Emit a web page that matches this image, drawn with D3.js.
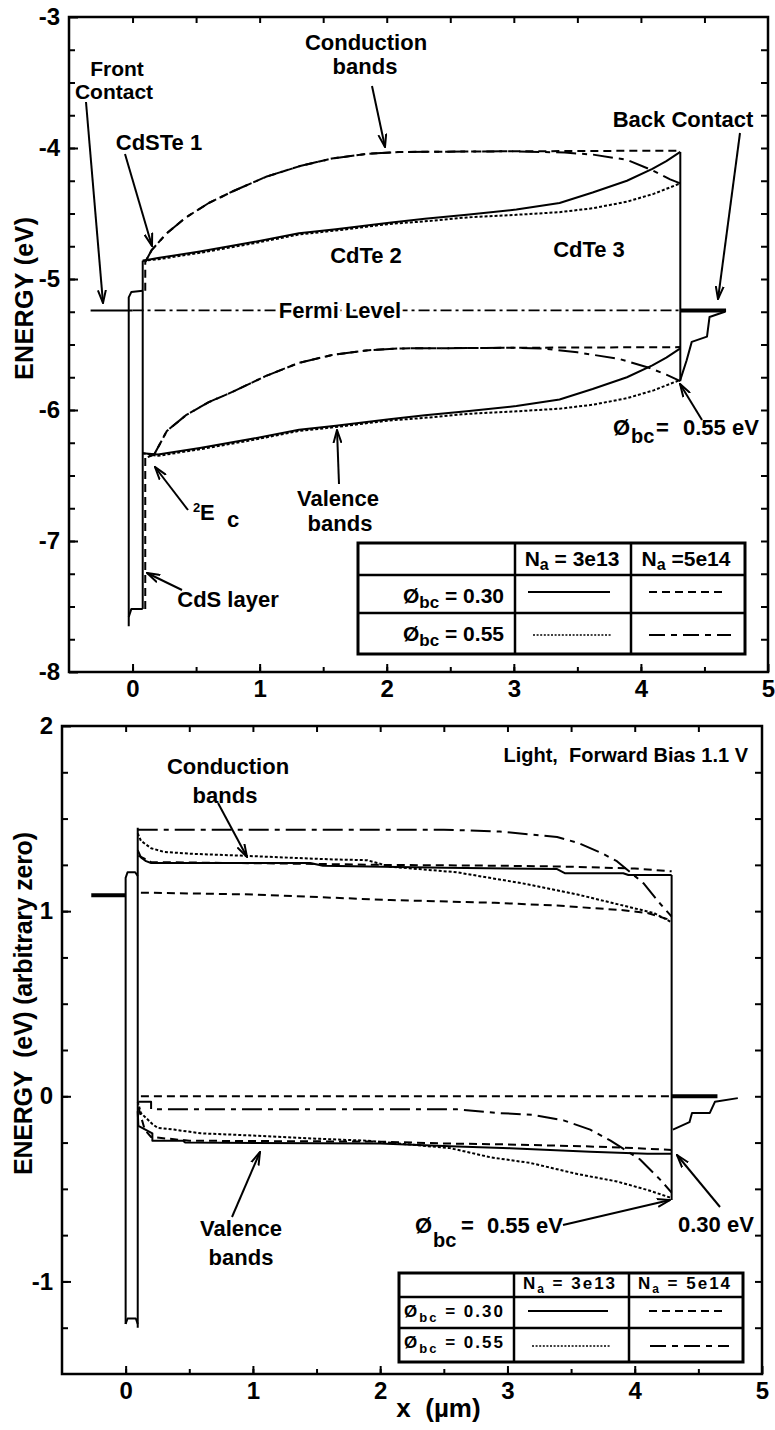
<!DOCTYPE html>
<html><head><meta charset="utf-8">
<script src="https://cdn.jsdelivr.net/npm/d3@7"></script>
<style>
body{margin:0;background:#fff}
svg{display:block;background:#fff}
text{font-family:"Liberation Sans",Arial,Helvetica,sans-serif;font-weight:bold;fill:#000}
.pre{white-space:pre}
</style></head><body>
<svg id="chart" width="775" height="1430"></svg>
<script>
// ---------------- DATA : top panel (equilibrium) ----------------
const xTickLabels = [0, 1, 2, 3, 4, 5];
const yTickLabelsTop = [-8, -7, -6, -5, -4, -3];
const yTickLabelsBot = [-1, 0, 1, 2];

const cbSolidTop = [[0.08,-4.86],[0.2,-4.84],[0.53,-4.79],[0.94,-4.72],[1.31,-4.65],[1.6,-4.62],[2.02,-4.57],[2.3,-4.54],[2.63,-4.51],[3.02,-4.47],[3.36,-4.42],[3.62,-4.34],[3.89,-4.25],[4.09,-4.16],[4.2,-4.10],[4.31,-4.03]];
const cbDottedTop = [[0.08,-4.86],[0.2,-4.85],[0.53,-4.80],[0.94,-4.73],[1.31,-4.66],[1.6,-4.63],[2.02,-4.58],[2.3,-4.56],[2.63,-4.53],[3.02,-4.51],[3.36,-4.49],[3.62,-4.46],[3.89,-4.41],[4.1,-4.35],[4.31,-4.27]];
const cbDashedTop = [[0.1,-5.09],[0.1,-4.87],[0.15,-4.78],[0.27,-4.65],[0.42,-4.53],[0.6,-4.42],[0.79,-4.33],[1.05,-4.22],[1.31,-4.14],[1.57,-4.08],[1.84,-4.045],[2.1,-4.03],[3.0,-4.025],[4.31,-4.02]];
const cbDashDotTop = [[0.1,-4.87],[0.15,-4.78],[0.27,-4.65],[0.42,-4.53],[0.6,-4.42],[0.79,-4.33],[1.05,-4.22],[1.31,-4.14],[1.57,-4.08],[1.84,-4.045],[2.1,-4.03],[3.0,-4.025],[3.4,-4.035],[3.62,-4.05],[3.89,-4.09],[4.09,-4.17],[4.23,-4.24],[4.31,-4.27]];

const vbSolidTop = [[0.08,-6.33],[0.2,-6.34],[0.53,-6.29],[0.94,-6.22],[1.31,-6.15],[1.6,-6.12],[2.02,-6.07],[2.3,-6.04],[2.63,-6.01],[3.02,-5.97],[3.36,-5.92],[3.62,-5.84],[3.89,-5.75],[4.09,-5.66],[4.2,-5.60],[4.31,-5.53]];
const vbDottedTop = [[0.08,-6.33],[0.2,-6.35],[0.53,-6.30],[0.94,-6.23],[1.31,-6.16],[1.6,-6.13],[2.02,-6.08],[2.3,-6.06],[2.63,-6.03],[3.02,-6.01],[3.36,-5.99],[3.62,-5.96],[3.89,-5.91],[4.1,-5.85],[4.31,-5.77]];
const vbDashedTop = [[0.1,-7.52],[0.1,-6.36],[0.17,-6.34],[0.27,-6.16],[0.42,-6.04],[0.6,-5.94],[0.79,-5.86],[1.05,-5.74],[1.31,-5.64],[1.57,-5.58],[1.84,-5.545],[2.1,-5.53],[3.0,-5.525],[4.31,-5.52]];
const vbDashDotTop = [[0.12,-6.36],[0.17,-6.34],[0.27,-6.16],[0.42,-6.04],[0.6,-5.94],[0.79,-5.86],[1.05,-5.74],[1.31,-5.64],[1.57,-5.58],[1.84,-5.545],[2.1,-5.53],[3.0,-5.525],[3.23,-5.53],[3.5,-5.56],[3.83,-5.61],[4.07,-5.68],[4.2,-5.73],[4.31,-5.78]];

const cdsTopLeft = [[-0.03,-7.65],[-0.03,-5.14],[-0.01,-5.10],[0.08,-5.09]];
const cdsTopRight = [[0.08,-4.86],[0.08,-7.52]];
const cdsTopBottom = [[-0.03,-7.58],[-0.01,-7.52],[0.08,-7.52]];
const frontContactTop = [[-0.33,-5.24],[0.0,-5.24]];
const fermiTop = [[0.0,-5.24],[4.31,-5.24]];
const backContactTop = [[4.31,-5.24],[4.67,-5.24]];
const backEdgeTop = [[4.31,-4.03],[4.31,-5.78]];
const backStairTop = [[4.31,-5.77],[4.36,-5.62],[4.40,-5.48],[4.52,-5.44],[4.54,-5.29],[4.66,-5.25]];

// ---------------- DATA : bottom panel (light, forward bias) ----------------
const frontContactBot = [[-0.27,1.086],[0.0,1.086]];
const cdsBotLeft = [[0.0,-1.23],[0.0,1.18],[0.015,1.21],[0.075,1.21],[0.095,1.19]];
const cdsBotRight = [[0.095,1.45],[0.095,-1.25]];
const cdsBotBottom = [[0.0,-1.23],[0.015,-1.20],[0.08,-1.20],[0.095,-1.23]];

const cbSolidBot = [[0.095,1.33],[0.12,1.29],[0.16,1.27],[0.2,1.26],[1.45,1.26],[1.55,1.245],[2.5,1.235],[3.39,1.227],[3.45,1.205],[3.91,1.205],[3.95,1.195],[4.29,1.195]];
const cbDashedBot = [[0.1,1.30],[0.2,1.265],[1.5,1.255],[2.0,1.25],[3.0,1.245],[3.5,1.24],[4.0,1.23],[4.29,1.215]];
const cbDottedBot = [[0.095,1.42],[0.12,1.38],[0.2,1.34],[0.3,1.32],[0.51,1.31],[0.9,1.30],[1.24,1.29],[1.6,1.28],[1.9,1.275],[2.08,1.24],[2.6,1.21],[3.12,1.15],[3.55,1.09],[3.91,1.03],[4.15,0.99],[4.29,0.94]];
const cbDashDotBot = [[0.095,1.44],[2.5,1.44],[2.94,1.43],[3.39,1.40],[3.55,1.37],[3.75,1.31],[3.86,1.27],[4.07,1.15],[4.2,1.04],[4.29,0.97]];
const lowDashedBot = [[0.12,1.10],[1.0,1.09],[2.08,1.06],[2.9,1.045],[3.39,1.03],[3.91,1.005],[4.1,0.99],[4.29,0.95]];

const vbSolidBot = [[0.095,-0.08],[0.1,-0.16],[0.21,-0.20],[0.21,-0.24],[0.45,-0.24],[0.47,-0.25],[2.0,-0.255],[2.55,-0.27],[3.02,-0.28],[3.65,-0.30],[4.1,-0.31],[4.29,-0.31]];
const vbDashedBot = [[0.1,-0.06],[0.15,-0.18],[0.2,-0.22],[0.5,-0.24],[2.0,-0.245],[2.5,-0.255],[3.0,-0.26],[3.6,-0.27],[4.0,-0.28],[4.29,-0.29]];
const zeroDashedBot = [[0.12,0.0],[4.29,0.0]];
const vbDottedBot = [[0.095,-0.03],[0.12,-0.09],[0.21,-0.15],[0.25,-0.17],[0.38,-0.18],[0.59,-0.20],[0.93,-0.21],[1.53,-0.23],[1.9,-0.24],[2.55,-0.28],[2.87,-0.33],[3.18,-0.36],[3.55,-0.42],[3.86,-0.46],[4.12,-0.51],[4.29,-0.55]];
const vbDashDotBot = [[0.1,-0.03],[0.2,-0.03],[0.2,-0.07],[2.6,-0.07],[2.92,-0.09],[3.2,-0.10],[3.44,-0.13],[3.65,-0.18],[3.81,-0.24],[4.04,-0.34],[4.2,-0.45],[4.29,-0.52]];

const backEdgeBot = [[4.29,1.195],[4.29,-0.56]];
const backContactBot = [[4.29,0.0],[4.65,0.0]];
const backStairBot = [[4.30,-0.18],[4.43,-0.14],[4.45,-0.09],[4.59,-0.09],[4.63,-0.03],[4.81,-0.01]];

// ---------------- STYLES ----------------
const lineStyles = {
  solid:   {dash: null, w: 2},
  dashed:  {dash: "8,5", w: 2},
  dotted:  {dash: "3,2", w: 2},
  dashdot: {dash: "20,6,5,6", w: 2},
  fermi:   {dash: "11,4,3,4", w: 1.8},
  thick:   {dash: null, w: 4}
};

const svg = d3.select("#chart");
const defs = svg.append("defs");
defs.append("marker").attr("id","arrow").attr("viewBox","0 0 14 10")
  .attr("refX",13).attr("refY",5).attr("markerWidth",14).attr("markerHeight",10)
  .attr("markerUnits","userSpaceOnUse").attr("orient","auto")
  .append("path").attr("d","M0,1 L13,5 L0,9").attr("fill","none")
  .attr("stroke","#000").attr("stroke-width",2);

function drawPanel(cfg) {
  const {x, y} = cfg;
  const g = svg.append("g");
  const [x0, x1] = x.range();
  const [y0, y1] = y.range();
  const [dy0, dy1] = y.domain();

  const style = sel => { sel.select(".domain").remove(); sel.selectAll("line").attr("stroke-width", 2); sel.selectAll("text").style("font-size","24px"); };
  const xMinor = d3.range(0, 11).map(i => -0.5 + i * 0.5).filter(v => v > -0.5 && v < 5);
  const yMinor = d3.range(1, Math.round((dy1 - dy0) / 0.25)).map(i => dy0 + i * 0.25);
  g.append("g").attr("transform", `translate(0,${y0})`)
    .call(d3.axisBottom(x).tickValues(xMinor).tickSize(-5).tickFormat("")).call(style);
  g.append("g").attr("transform", `translate(0,${y0})`)
    .call(d3.axisBottom(x).tickValues(xTickLabels).tickSize(-8).tickPadding(8).tickFormat(d => String(d))).call(style);
  g.append("g").attr("transform", `translate(0,${y1})`)
    .call(d3.axisTop(x).tickValues(xMinor).tickSize(-6).tickFormat("")).call(style);
  g.append("g").attr("transform", `translate(${x0},0)`)
    .call(d3.axisLeft(y).tickValues(yMinor).tickSize(-6).tickFormat("")).call(style);
  g.append("g").attr("transform", `translate(${x0},0)`)
    .call(d3.axisLeft(y).tickValues(cfg.yLabels).tickSize(-9).tickPadding(9).tickFormat(d => String(d))).call(style);
  g.append("g").attr("transform", `translate(${x1},0)`)
    .call(d3.axisRight(y).tickValues(yMinor).tickSize(-7).tickFormat("")).call(style);
  g.append("rect").attr("x", x0).attr("y", y1).attr("width", x1 - x0).attr("height", y0 - y1)
    .attr("fill","none").attr("stroke","#000").attr("stroke-width",2.5);

  const line = d3.line().x(d => x(d[0])).y(d => y(d[1]));
  cfg.lines.forEach(([data, st]) => {
    const s = lineStyles[st];
    g.append("path").datum(data).attr("d", line).attr("fill","none").attr("stroke","#000")
      .attr("stroke-width", s.w).attr("stroke-dasharray", s.dash).attr("stroke-linejoin","round");
  });
  return g;
}

const topX = d3.scaleLinear().domain([-0.5, 5]).range([69, 768]);
const topY = d3.scaleLinear().domain([-8, -3]).range([672, 17]);
const botX = d3.scaleLinear().domain([-0.5, 5]).range([62, 762]);
const botY = d3.scaleLinear().domain([-1.5, 2]).range([1374, 726]);

drawPanel({x: topX, y: topY, yLabels: yTickLabelsTop, lines: [
  [cdsTopLeft,'solid'],[cdsTopRight,'solid'],[cdsTopBottom,'solid'],
  [frontContactTop,'solid'],[fermiTop,'fermi'],[backContactTop,'thick'],[backEdgeTop,'solid'],[backStairTop,'solid'],
  [cbDashedTop,'dashed'],[vbDashedTop,'dashed'],[cbDashDotTop,'dashdot'],[vbDashDotTop,'dashdot'],
  [cbDottedTop,'dotted'],[vbDottedTop,'dotted'],[cbSolidTop,'solid'],[vbSolidTop,'solid']
]});
drawPanel({x: botX, y: botY, yLabels: yTickLabelsBot, lines: [
  [frontContactBot,'thick'],[cdsBotLeft,'solid'],[cdsBotRight,'solid'],[cdsBotBottom,'solid'],
  [lowDashedBot,'dashed'],[zeroDashedBot,'dashed'],[cbDashedBot,'dashed'],[vbDashedBot,'dashed'],
  [cbDashDotBot,'dashdot'],[vbDashDotBot,'dashdot'],[cbDottedBot,'dotted'],[vbDottedBot,'dotted'],
  [cbSolidBot,'solid'],[vbSolidBot,'solid'],
  [backEdgeBot,'solid'],[backContactBot,'thick'],[backStairBot,'solid']
]});

// ---------------- ANNOTATIONS ----------------
const ann = svg.append("g");
function txt(s, px, py, opt = {}) {
  const t = ann.append("text").attr("x", px).attr("y", py).attr("class","pre")
    .attr("text-anchor", opt.anchor || "middle").style("font-size", (opt.size || 22) + "px").text(s);
  if (opt.halo) t.attr("stroke","#fff").attr("stroke-width",6).attr("paint-order","stroke").attr("stroke-linejoin","round");
  return t;
}
function arrow(a, b, c, d) {
  ann.append("line").attr("x1", a).attr("y1", b).attr("x2", c).attr("y2", d)
    .attr("stroke","#000").attr("stroke-width",2).attr("marker-end","url(#arrow)");
}
// top panel
txt("Front", 117, 76, {size: 21}); txt("Contact", 114, 99, {size: 21});
arrow(86, 102, 103, 303);
txt("CdSTe 1", 159, 150); arrow(125, 154, 152, 246);
txt("Conduction", 366, 50); txt("bands", 365, 74); arrow(372, 86, 385, 147);
txt("CdTe 2", 366, 263);
txt("CdTe 3", 589, 257);
txt("Back Contact", 683, 127); arrow(740, 133, 718, 299);
txt("Fermi Level", 340, 318, {halo: true});
txt("Valence", 338, 506); txt("bands", 340, 531); arrow(339, 484, 337, 430);
txt("CdS layer", 228, 607); arrow(182, 590, 147, 573);
{
  const t = ann.append("text").attr("y", 520).style("font-size","22px");
  t.append("tspan").attr("x",193).attr("y",512).style("font-size","13px").text("2");
  t.append("tspan").attr("x",200).attr("y",520).text("E");
  t.append("tspan").attr("x",227).attr("y",527).text("c");
  arrow(188, 510, 155, 467);
}
{
  const t = ann.append("text").style("font-size","22px");
  t.append("tspan").attr("x",613).attr("y",435).text("Ø");
  t.append("tspan").attr("x",631).attr("y",443).style("font-size","20px").text("bc");
  t.append("tspan").attr("x",656).attr("y",435).text("=");
  t.append("tspan").attr("x",683).attr("y",435).text("0.55 eV");
  arrow(702, 420, 680, 384);
}
// bottom panel
txt("Light,  Forward Bias 1.1 V", 748, 762, {anchor: "end", size: 20});
txt("Conduction", 228, 774); txt("bands", 225, 803); arrow(218, 803, 247, 857);
txt("Valence", 241, 1236); txt("bands", 241, 1265); arrow(232, 1217, 260, 1152);
{
  const t = ann.append("text").style("font-size","22px");
  t.append("tspan").attr("x",415).attr("y",1233).text("Ø");
  t.append("tspan").attr("x",433).attr("y",1247).style("font-size","20px").text("bc");
  t.append("tspan").attr("x",461).attr("y",1233).text("=");
  t.append("tspan").attr("x",487).attr("y",1233).text("0.55 eV");
  arrow(563, 1225, 670, 1200);
}
txt("0.30 eV", 678, 1232, {anchor: "start"}); arrow(720, 1207, 677, 1155);

// axis titles
ann.append("text").attr("transform","translate(33,298.5) rotate(-90)").attr("text-anchor","middle")
  .style("font-size","25px").attr("textLength",163).text("ENERGY (eV)");
ann.append("text").attr("transform","translate(32,1003.5) rotate(-90)").attr("text-anchor","middle")
  .attr("class","pre").style("font-size","25px").attr("textLength",343).text("ENERGY  (eV) (arbitrary zero)");
ann.append("text").attr("x",438.5).attr("y",1417).attr("text-anchor","middle")
  .attr("class","pre").style("font-size","26px").text("x  (µm)");

// ---------------- LEGEND TABLES ----------------
function table(cfg) {
  const g = svg.append("g");
  const {l, r, t, b, c1, c2, r1, r2} = cfg;
  g.append("rect").attr("x", l).attr("y", t).attr("width", r - l).attr("height", b - t)
    .attr("fill","#fff").attr("stroke","#000").attr("stroke-width",3);
  [c1, c2].forEach(c => g.append("line").attr("x1",c).attr("x2",c).attr("y1",t).attr("y2",b).attr("stroke","#000").attr("stroke-width",2.5));
  [r1, r2].forEach(rr => g.append("line").attr("x1",l).attr("x2",r).attr("y1",rr).attr("y2",rr).attr("stroke","#000").attr("stroke-width",2.5));
  const fs = cfg.fs, ls = cfg.ls;
  [[cfg.h1x, cfg.h1], [cfg.h2x, cfg.h2]].forEach(([hx, rest]) => {
    const tx = g.append("text").attr("x", hx).attr("y", cfg.hy).attr("text-anchor","middle").attr("class","pre")
      .style("font-size", fs + "px").style("letter-spacing", ls + "px");
    tx.append("tspan").text("N");
    tx.append("tspan").attr("dy", 4).style("font-size", (fs - 5) + "px").text("a");
    tx.append("tspan").attr("dy", -4).text(rest);
  });
  [[cfg.ry1, " = 0.30"], [cfg.ry2, " = 0.55"]].forEach(([ry, rest]) => {
    const tx = g.append("text").attr("x", cfg.rx).attr("y", ry).attr("class","pre")
      .style("font-size", fs + "px").style("letter-spacing", ls + "px");
    tx.append("tspan").text("Ø");
    tx.append("tspan").attr("dy", cfg.sub).style("font-size", (fs - 4) + "px").text("bc");
    tx.append("tspan").attr("dy", -cfg.sub).text(rest);
  });
  const samp = [
    ['solid', cfg.s1, cfg.sy1], ['dashed', cfg.s2, cfg.sy1],
    ['dotted', cfg.s3, cfg.sy2], ['dashdot', cfg.s4, cfg.sy2]
  ];
  const legDash = {solid: null, dashed: "8,5", dotted: "2,1.6", dashdot: "16,6,6,6"};
  samp.forEach(([st, [a, bb], yy]) => {
    g.append("line").attr("x1", a).attr("x2", bb).attr("y1", yy).attr("y2", yy)
      .attr("stroke","#000").attr("stroke-width", st === 'dotted' ? 1.6 : 2).attr("stroke-dasharray", legDash[st]);
  });
}
table({l:358, r:745, t:543, b:654, c1:515, c2:631, r1:575, r2:613, fs:21, ls:0,
  h1:" = 3e13", h2:" =5e14",
  h1x:572, h2x:686, hy:566, rx:403, ry1:603, ry2:641, sub:5,
  s1:[528,610], s2:[649,727], s3:[533,611], s4:[649,731], sy1:592, sy2:635});
table({l:399, r:743, t:1273, b:1362, c1:514, c2:629, r1:1297, r2:1328, fs:17, ls:2,
  h1:" = 3e13", h2:" = 5e14",
  h1x:570, h2x:685, hy:1289, rx:404, ry1:1317, ry2:1348, sub:5,
  s1:[528,608], s2:[649,727], s3:[532,610], s4:[650,729], sy1:1311, sy2:1346});
</script>
</body></html>
